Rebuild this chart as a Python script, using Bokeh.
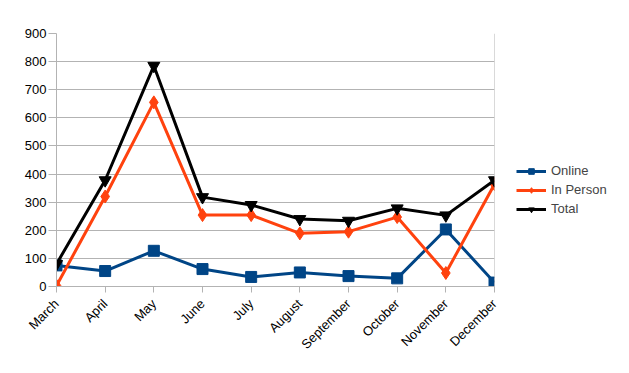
import math
from bokeh.plotting import figure
from bokeh.models import Range1d, FixedTicker, Legend, LegendItem, Span, ColumnDataSource
from bokeh.embed import file_html
from bokeh.resources import INLINE

months = ["March", "April", "May", "June", "July", "August", "September", "October", "November", "December"]
online = [75, 55, 127, 62, 34, 50, 37, 29, 203, 14]
in_person = [3, 320, 655, 254, 254, 189, 195, 247, 48, 364]
total = [80, 378, 785, 318, 290, 240, 234, 278, 253, 378]
y_ticks = [0, 100, 200, 300, 400, 500, 600, 700, 800, 900]

xs = list(range(len(months)))
src = ColumnDataSource(dict(x=xs, online=online, in_person=in_person, total=total))

p = figure(frame_width=438, frame_height=253, min_border_left=56, min_border_top=33,
           min_border_right=127, min_border_bottom=79,
           x_range=Range1d(0, len(months) - 1), y_range=Range1d(0, 900),
           output_backend="svg", toolbar_location=None)
p.outline_line_color = None
p.background_fill_color = "white"

FONT = "Liberation Sans"
p.xaxis.ticker = FixedTicker(ticks=xs)
p.xaxis.major_label_overrides = {i: m for i, m in enumerate(months)}
p.xaxis.major_label_orientation = math.pi / 4
p.yaxis.ticker = FixedTicker(ticks=y_ticks)
for ax in (p.xaxis[0], p.yaxis[0]):
    ax.axis_line_color = "#b3b3b3"
    ax.major_tick_line_color = "#b3b3b3"
    ax.minor_tick_line_color = None
    ax.major_label_text_font = FONT
    ax.major_label_text_font_size = "13px"
    ax.major_label_text_color = "#000000"
p.xaxis.major_tick_out = 6
p.xaxis.major_tick_in = 0
p.xaxis.major_label_standoff = 9
p.yaxis.major_tick_out = 8
p.yaxis.major_tick_in = 0
p.yaxis.major_label_standoff = 2

p.xgrid.grid_line_color = None
p.ygrid.grid_line_color = "#b3b3b3"
p.add_layout(Span(location=len(months) - 1, dimension="height", line_color="#b3b3b3", line_width=1))

l1 = p.line("x", "online", source=src, line_color="#004586", line_width=3)
s1 = p.scatter("x", "online", source=src, marker="square", size=11, color="#004586")
l2 = p.line("x", "in_person", source=src, line_color="#ff420e", line_width=3)
s2 = p.scatter("x", "in_person", source=src, marker="diamond", size=13, color="#ff420e")
l3 = p.line("x", "total", source=src, line_color="#000000", line_width=3)
s3 = p.scatter("x", "total", source=src, marker="inverted_triangle", size=12, color="#000000")

legend = Legend(items=[
    LegendItem(label="Online", renderers=[l1, s1]),
    LegendItem(label="In Person", renderers=[l2, s2]),
    LegendItem(label="Total", renderers=[l3, s3]),
], location=(22, 70), border_line_color=None, background_fill_alpha=0,
    label_text_font=FONT, label_text_font_size="13px", glyph_width=30,
    glyph_height=14, spacing=4, label_standoff=5, padding=4, margin=0)
p.add_layout(legend, "right")

open("out.html", "w").write(file_html(p, INLINE))
